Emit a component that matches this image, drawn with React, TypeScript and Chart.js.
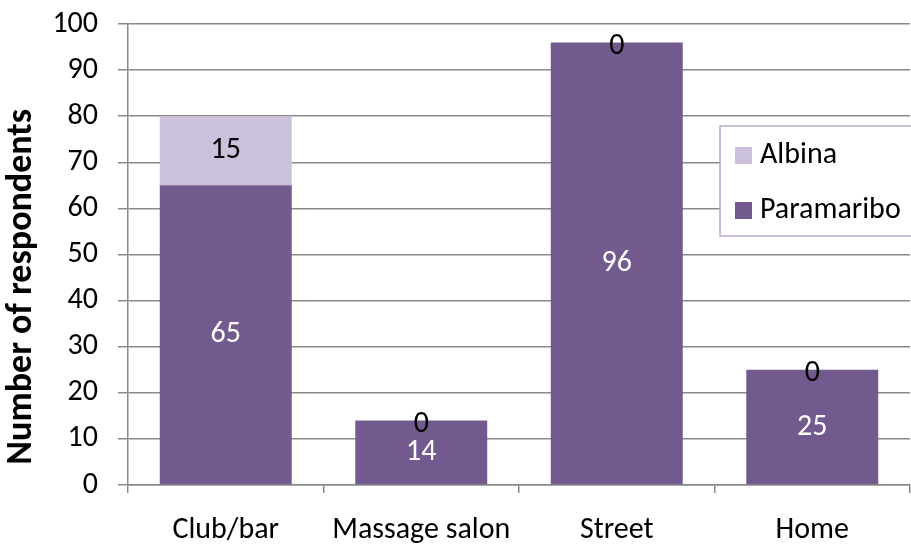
import React, { useEffect, useRef } from "react";
import { Chart, registerables } from "chart.js";

Chart.register(...registerables);

const categories = ["Club/bar", "Massage salon", "Street", "Home"];
const paramaribo = [65, 14, 96, 25];
const albina = [15, 0, 0, 0];
const yTicks = [0, 10, 20, 30, 40, 50, 60, 70, 80, 90, 100];
const yTitle = "Number of respondents";

const DARK = "#725a8f";
const LIGHT = "#cbc1db";
const GRID = "#8a8a8a";
const FONT = "Carlito, Lato, sans-serif";
const SIZE = 30;

const labelsPlugin = {
  id: "barLabels",
  afterDatasetsDraw(chart: any) {
    const ctx = chart.ctx;
    ctx.save();
    ctx.font = `${SIZE}px ${FONT}`;
    ctx.textAlign = "center";
    ctx.textBaseline = "middle";
    chart.data.datasets.forEach((ds: any, di: number) => {
      const meta = chart.getDatasetMeta(di);
      meta.data.forEach((el: any, i: number) => {
        const v = ds.data[i];
        let y = (el.y + el.base) / 2;
        if (v === 0) y = el.y + 4;
        ctx.fillStyle = di === 0 && v !== 0 ? "#ffffff" : "#000000";
        ctx.fillText(String(v), el.x, y);
      });
    });
    ctx.restore();
  },
};

const titlePlugin = {
  id: "yTitle",
  afterDraw(chart: any) {
    const ctx = chart.ctx;
    const a = chart.chartArea;
    ctx.save();
    ctx.translate(22, a.top + (a.bottom - a.top) * 0.57);
    ctx.rotate(-Math.PI / 2);
    ctx.font = `bold 36px ${FONT}`;
    ctx.textAlign = "center";
    ctx.textBaseline = "middle";
    ctx.fillStyle = "#000";
    ctx.fillText(yTitle, 0, 0);
    ctx.restore();
  },
};

const legendPlugin = {
  id: "boxLegend",
  afterDraw(chart: any) {
    const ctx = chart.ctx;
    const a = chart.chartArea;
    const left = a.right - 190;
    const top = a.top + 102;
    ctx.save();
    ctx.fillStyle = "#ffffff";
    ctx.fillRect(left, top, 220, 110);
    ctx.strokeStyle = "#b9a9cf";
    ctx.lineWidth = 1.5;
    ctx.strokeRect(left, top, 220, 110);
    const items = [
      { label: "Albina", color: LIGHT },
      { label: "Paramaribo", color: DARK },
    ];
    ctx.font = `${SIZE}px ${FONT}`;
    ctx.textBaseline = "middle";
    ctx.textAlign = "left";
    items.forEach((it, i) => {
      const cy = top + 29 + i * 55;
      ctx.fillStyle = it.color;
      ctx.fillRect(left + 15, cy - 8, 17, 17);
      ctx.fillStyle = "#000000";
      ctx.fillText(it.label, left + 40, cy);
    });
    ctx.restore();
  },
};

export default function App() {
  const ref = useRef<HTMLCanvasElement | null>(null);
  useEffect(() => {
    document.body.style.margin = "0";
    const chart = new Chart(ref.current as HTMLCanvasElement, {
      type: "bar",
      data: {
        labels: categories,
        datasets: [
          { label: "Paramaribo", data: paramaribo, backgroundColor: DARK },
          { label: "Albina", data: albina, backgroundColor: LIGHT },
        ],
      },
      options: {
        animation: false,
        responsive: false,
        events: [],
        layout: { padding: { top: 24, right: 1, left: 0, bottom: 0 } },
        datasets: { bar: { categoryPercentage: 1, barPercentage: 0.675 } } as any,
        plugins: { legend: { display: false }, tooltip: { enabled: false } },
        scales: {
          x: {
            stacked: true,
            offset: true,
            grid: {
              offset: true,
              drawOnChartArea: false,
              drawTicks: true,
              tickLength: 8,
              color: GRID,
              lineWidth: 1.5,
            },
            border: { color: GRID, width: 1.5 },
            ticks: { color: "#000", font: { family: FONT, size: SIZE }, padding: 19, maxRotation: 0 },
            afterFit(scale: any) {
              scale.height = 61;
              scale.paddingLeft = 0;
              scale.paddingRight = 0;
            },
          },
          y: {
            stacked: true,
            min: 0,
            max: 100,
            afterBuildTicks(scale: any) {
              scale.ticks = yTicks.map((v) => ({ value: v }));
            },
            grid: { color: GRID, lineWidth: 1.5, tickLength: 10 },
            border: { color: GRID, width: 1.5 },
            ticks: { color: "#000", font: { family: FONT, size: SIZE }, padding: 20 },
            afterFit(scale: any) {
              scale.width = 128;
              scale.paddingTop = 0;
              scale.paddingBottom = 0;
            },
          },
        },
      },
      plugins: [labelsPlugin, legendPlugin, titlePlugin],
    });
    return () => chart.destroy();
  }, []);
  return <canvas ref={ref} width={911} height={546} style={{ display: "block" }} />;
}
